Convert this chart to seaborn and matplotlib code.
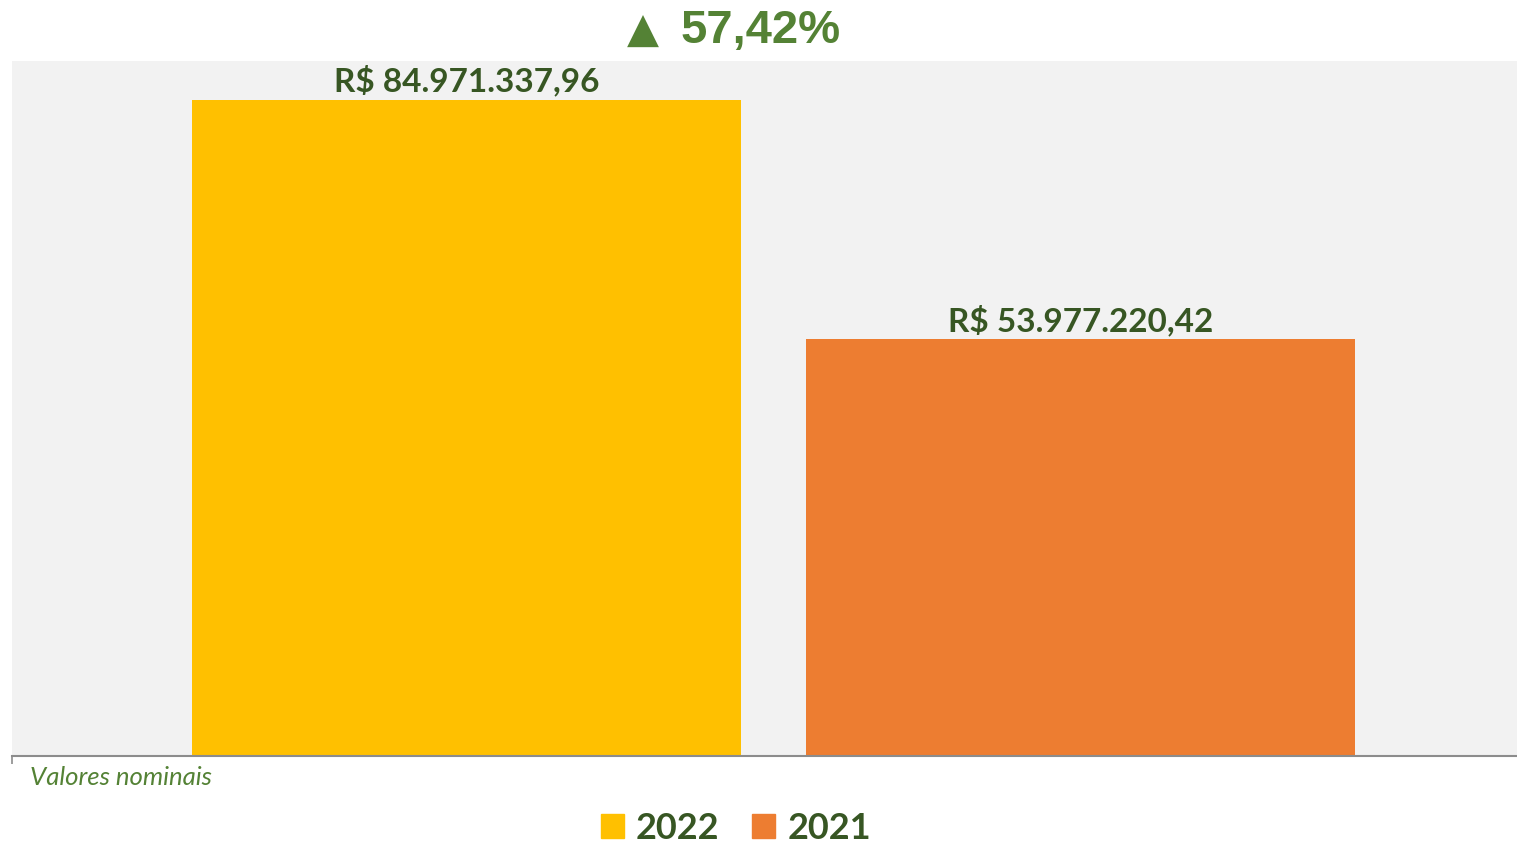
import numpy as np
import pandas as pd
import seaborn as sns
import matplotlib.pyplot as plt

# data
anos = ["2022", "2021"]
valores = [84971337.96, 53977220.42]
cores = ["#FFC000", "#ED7D31"]
variacao = "57,42%"
nota = "Valores nominais"

df = pd.DataFrame({"ano": anos, "valor": valores})

def brl(v):
    s = f"{v:,.2f}".replace(",", "X").replace(".", ",").replace("X", ".")
    return "R$ " + s

sns.set_theme(style="white")
plt.rcParams['font.family'] = ['Lato', 'DejaVu Sans']

fig = plt.figure(figsize=(15.17, 8.45), dpi=100)
ax = fig.add_axes([12/1517, 1 - 757/845, 1505/1517, 695/845])
ax.set_facecolor("#F2F2F2")

sns.barplot(data=df, x="ano", y="valor", hue="ano", order=anos, hue_order=anos,
            palette=cores, width=0.894, legend=False, ax=ax, saturation=1, linewidth=0)

ax.set_xlim(-0.740, 1.711)
ax.set_ylim(0, 90.0e6)
ax.set_xlabel("")
ax.set_ylabel("")
ax.set_xticks([])
ax.set_yticks([])
for s in ["top", "right", "left"]:
    ax.spines[s].set_visible(False)
ax.spines["bottom"].set_color("#8C8C8C")
ax.spines["bottom"].set_linewidth(1.5)
ax.set_xticks([-0.740], minor=True)
ax.tick_params(axis="x", which="minor", bottom=True, length=6, width=1.2, color="#8C8C8C")
ax.set_xticklabels([], minor=True)

for cont in ax.containers:
    vals = cont.datavalues
    ax.bar_label(cont, labels=[brl(v) for v in vals if not np.isnan(v)], padding=3,
                 fontsize=24, fontweight="bold", color="#375623")

# variacao no topo
fig.text(643/1517, 1 - 31/845, "▲", ha="center", va="center", fontsize=30,
         color="#548235", family="DejaVu Sans")
fig.text(680/1517, 1 - 31/845, variacao, ha="left", va="center", fontsize=34,
         fontweight="bold", color="#548235", family=["Liberation Sans", "DejaVu Sans"])

fig.text(30/1517, 1 - 778/845, nota, ha="left", va="center", fontsize=18.5,
         style="italic", color="#548235")

handles = [plt.Rectangle((0, 0), 1, 1, color=c) for c in cores]
leg = fig.legend(handles, anos, loc="center", bbox_to_anchor=(0.485, 1 - 829/845), ncol=2,
                 frameon=False, fontsize=26, handlelength=0.65, handleheight=0.65,
                 handletextpad=0.33, columnspacing=0.9)
for t in leg.get_texts():
    t.set_fontweight("bold")
    t.set_color("#375623")

fig.savefig("out.png", dpi=100)
